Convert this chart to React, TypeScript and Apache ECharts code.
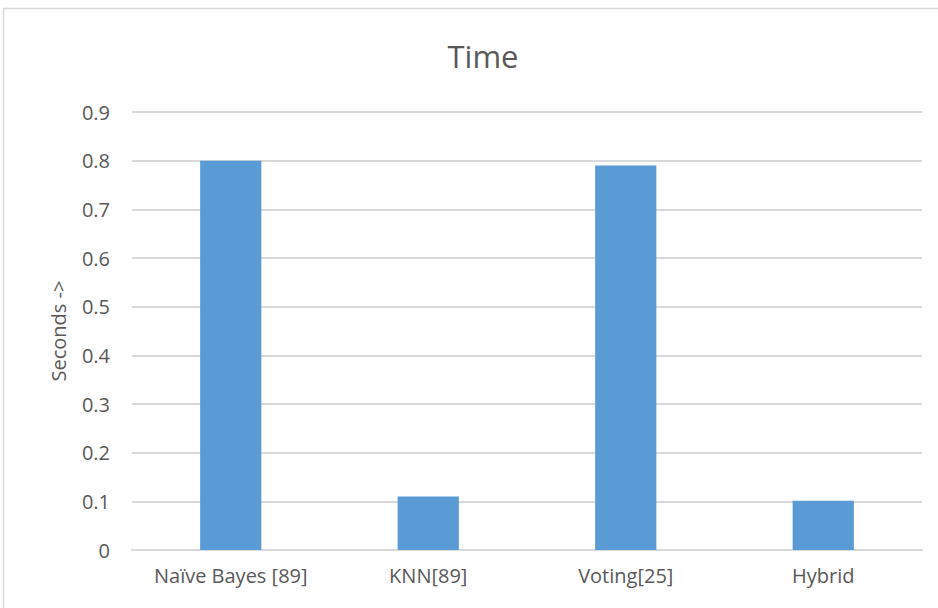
import React, { useEffect, useRef } from "react";
import * as echarts from "echarts";

const categories = ["Naïve Bayes [89]", "KNN[89]", "Voting[25]", "Hybrid"];
const seconds = [0.8, 0.11, 0.79, 0.101];
const FONT = "Open Sans";
const TEXT = "#595959";
const GRID = "#D9D9D9";

export default function App() {
  const ref = useRef<HTMLDivElement>(null);
  useEffect(() => {
    if (!ref.current) return;
    const chart = echarts.init(ref.current, undefined, { renderer: "svg" });
    chart.setOption({
      animation: false,
      backgroundColor: "#ffffff",
      textStyle: { fontFamily: FONT },
      title: {
        text: "Time",
        left: 478,
        textAlign: "center",
        top: 35,
        textStyle: { fontFamily: FONT, fontSize: 31, fontWeight: "normal", color: TEXT },
      },
      graphic: [
        {
          type: "rect",
          shape: { x: 3.5, y: 8.5, width: 1000, height: 700 },
          style: { fill: "none", stroke: GRID, lineWidth: 1.5 },
          silent: true,
        },
      ],
      grid: { left: 132, right: 16, top: 112, bottom: 58 },
      xAxis: {
        type: "category",
        data: categories,
        axisLine: { lineStyle: { color: GRID, width: 2 } },
        axisTick: { show: false },
        axisLabel: {
          color: TEXT,
          fontSize: 20,
          margin: 15,
          fontFamily: FONT,
          interval: 0,
          hideOverlap: false,
        },
      },
      yAxis: {
        type: "value",
        min: 0,
        max: 0.9,
        interval: 0.1,
        name: "Seconds ->",
        nameLocation: "middle",
        nameGap: 64,
        nameTextStyle: { color: TEXT, fontSize: 20, fontFamily: FONT },
        axisLine: { show: false },
        axisTick: { show: false },
        splitLine: { lineStyle: { color: GRID, width: 2 } },
        axisLabel: {
          color: TEXT,
          fontSize: 20,
          margin: 22,
          fontFamily: FONT,
          formatter: (v: number) => (v === 0 ? "0" : v.toFixed(1)),
        },
      },
      series: [
        {
          type: "bar",
          data: seconds,
          barWidth: "31%",
          itemStyle: { color: "#5B9BD5" },
        },
      ],
    });
    return () => chart.dispose();
  }, []);
  return (
    <div
      ref={ref}
      style={{ position: "fixed", left: 0, top: 0, width: 938, height: 608 }}
    />
  );
}
